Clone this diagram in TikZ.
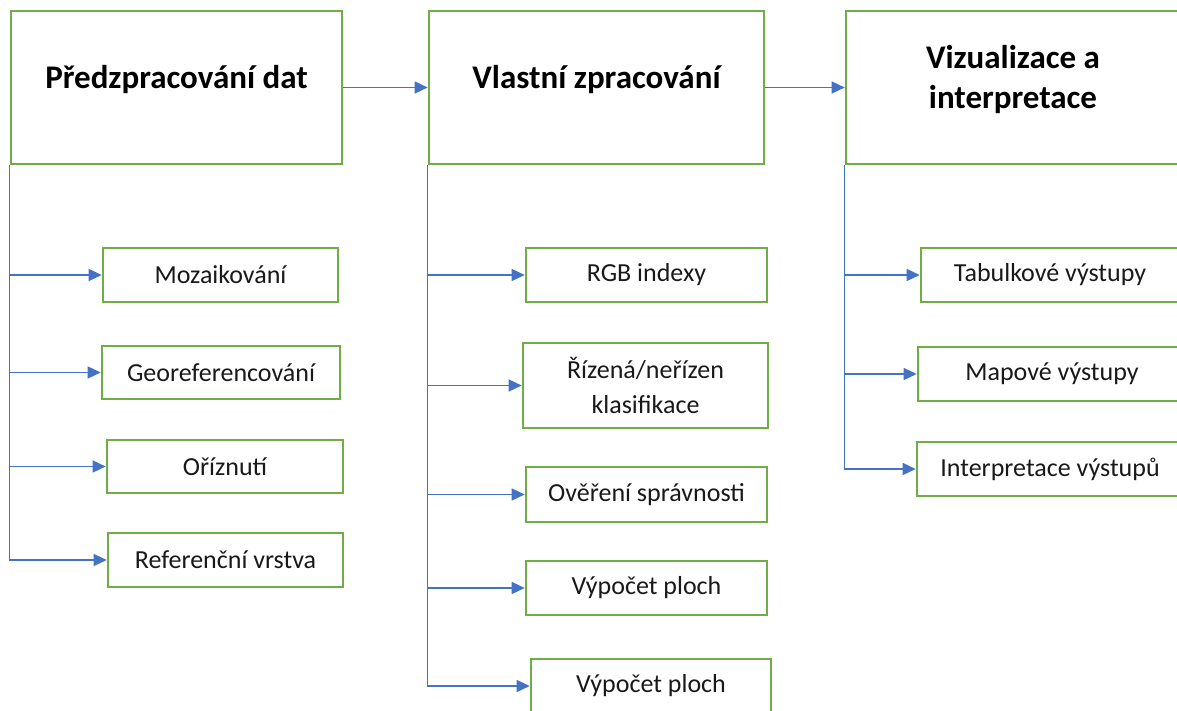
\documentclass[tikz,border=0pt]{standalone}
\usepackage{fontspec}
\setmainfont{Carlito}
\usetikzlibrary{arrows.meta}
\definecolor{BoxGreen}{HTML}{70AD47}
\definecolor{LinkBlue}{HTML}{4472C4}

\begin{document}
\begin{tikzpicture}[x=1pt,y=-1pt,>=Latex]
    \tikzset{
      mainbox/.style={draw=BoxGreen,line width=2.6pt,fill=white,minimum height=153pt},
      title/.style={align=center,font=\fontsize{33}{40}\selectfont\bfseries,text=black},
      subbox/.style={draw=BoxGreen,line width=2.6pt,fill=white,minimum height=54pt,
                     align=center,font=\fontsize{26}{35}\selectfont,text=black!90},
      flow/.style={-{Triangle[length=13pt,width=12pt]},line width=1.4pt,draw=LinkBlue},
      branch/.style={flow}
    }
    \useasboundingbox (0,0) rectangle (1177,711);
    \clip (0,0) rectangle (1177,711);
    % main stages
    \node[mainbox,minimum width=331pt] (pre) at (176.5,87.5) {};
    \node[mainbox,minimum width=335pt] (own) at (596.5,87.5) {};
    \node[mainbox,minimum width=334pt] (viz) at (1013,87.5) {};
    \node[title] (pretxt) at ([yshift=8pt]pre.center) {Předzpracování dat};
    \node[title] (owntxt) at ([yshift=8pt]own.center) {Vlastní zpracování};
    \node[title] (viztxt) at ([yshift=8pt]viz.center) {Vizualizace a\\interpretace};
    \draw[flow] (pre) -- (own);
    \draw[flow] (own) -- (viz);
    % preprocessing steps
    \node[subbox,minimum width=235pt] (mozaik) at (220.5,275) {Mozaikování};
    \node[subbox,minimum width=238pt,minimum height=53pt] (georef) at (221,372.5) {Georeferencování};
    \node[subbox,minimum width=236pt,minimum height=53pt] (orez) at (225,466.5) {Oříznutí};
    \node[subbox,minimum width=235pt] (refvr) at (225.5,560) {Referenční vrstva};
    \draw[branch] (pre.south west) |- (mozaik.west);
    \draw[branch] (pre.south west) |- (georef.west);
    \draw[branch] (pre.south west) |- (orez.west);
    \draw[branch] (pre.south west) |- (refvr.west);
    % processing steps
    \node[subbox,minimum width=241pt] (rgb) at (646.5,275) {RGB indexy};
    \node[subbox,minimum width=245pt,minimum height=85pt] (klas) at (645.5,385.5) {Řízená/neřízen\\klasifikace};
    \node[subbox,minimum width=241pt,minimum height=55pt] (over) at (646.5,494.5) {Ověření správnosti};
    \node[subbox,minimum width=241pt] (plocha) at (646.5,588) {Výpočet ploch};
    \node[subbox,minimum width=240pt] (plochb) at (651,686) {Výpočet ploch};
    \draw[branch] (own.south west) |- (rgb.west);
    \draw[branch] (own.south west) |- (klas.west);
    \draw[branch] (own.south west) |- (over.west);
    \draw[branch] (own.south west) |- (plocha.west);
    \draw[branch] (own.south west) |- (plochb.west);
    % outputs
    \node[subbox,minimum width=258pt] (tab) at (1050,275) {Tabulkové výstupy};
    \node[subbox,minimum width=268pt] (mapa) at (1052,374) {Mapové výstupy};
    \node[subbox,minimum width=266pt] (interp) at (1050,469) {Interpretace výstupů};
    \draw[branch] (viz.south west) |- (tab.west);
    \draw[branch] (viz.south west) |- (mapa.west);
    \draw[branch] (viz.south west) |- (interp.west);
\end{tikzpicture}
\end{document}
